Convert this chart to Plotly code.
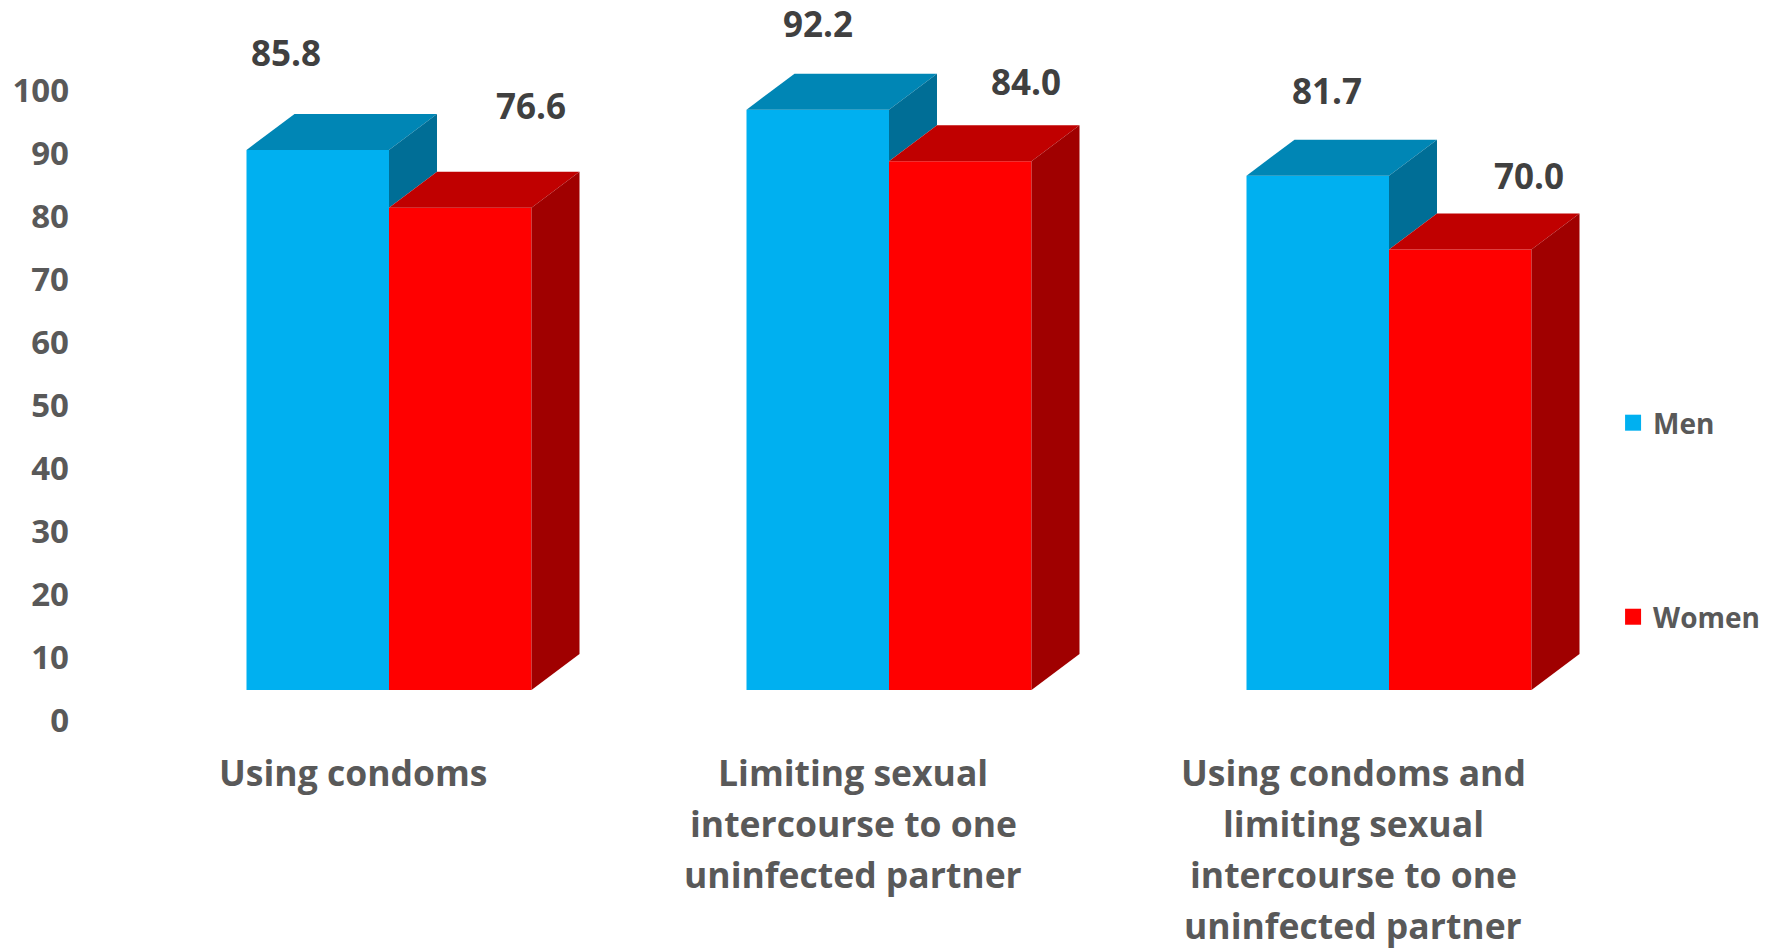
import plotly.graph_objects as go

# ---- data -------------------------------------------------------------
category_lines = [
    ["Using condoms"],
    ["Limiting sexual", "intercourse to one", "uninfected partner"],
    ["Using condoms and", "limiting sexual", "intercourse to one", "uninfected partner"],
]
series_names = ["Men", "Women"]
men = [85.8, 92.2, 81.7]
women = [76.6, 84.0, 70.0]
y_ticks = list(range(0, 101, 10))

# ---- styling ----------------------------------------------------------
FONT = "Open Sans"
TICK_GREY = "#595959"
LABEL_GREY = "#404040"
front_colors = ["#00B0F0", "#FF0000"]
top_colors = ["#0086B5", "#C00000"]
side_colors = ["#006E96", "#A00000"]

# pseudo-3D geometry (axis units)
FLOOR = 4.77        # front faces rise from the floor's front edge
BAR_W = 0.285       # width of one front face
GROUP_SHIFT = 0.072 # front faces sit right of the category centre
DEPTH_X = 0.096     # receding offset of the back edges
DEPTH_Y = 5.72

# per-label nudges (pixels) for the value labels
label_dx = [[-32, 0, 9], [71, 66, 69]]
label_dy = [[97, 86, 85], [102, 80, 74]]

series_values = [men, women]
xs = list(range(len(category_lines)))

fig = go.Figure()

# front faces
for s, vals in enumerate(series_values):
    fig.add_trace(go.Bar(
        x=xs, y=vals, base=FLOOR, width=BAR_W,
        offset=GROUP_SHIFT - BAR_W + s * BAR_W,
        marker=dict(color=front_colors[s], line=dict(width=0)),
        showlegend=False, hoverinfo="skip", name=series_names[s],
    ))


def poly(px, py, color):
    fig.add_trace(go.Scatter(
        x=px + [px[0]], y=py + [py[0]], mode="lines", fill="toself",
        fillcolor=color, line=dict(width=0, color=color),
        showlegend=False, hoverinfo="skip",
    ))


for i in xs:
    m, w = men[i], women[i]
    for s, v in enumerate((m, w)):
        left = i + GROUP_SHIFT - BAR_W + s * BAR_W
        right = left + BAR_W
        top = FLOOR + v
        # top face
        poly([left, right, right + DEPTH_X, left + DEPTH_X],
             [top, top, top + DEPTH_Y, top + DEPTH_Y], top_colors[s])
        # right side face; the men's side shows only above the women's bar
        if s == 0:
            low = FLOOR + min(w, m)
        else:
            low = FLOOR
        if top > low:
            poly([right, right + DEPTH_X, right + DEPTH_X, right],
                 [low, low + DEPTH_Y, top + DEPTH_Y, top], side_colors[s])

# value labels
for s, vals in enumerate(series_values):
    for i, v in enumerate(vals):
        cx = i + GROUP_SHIFT - BAR_W + s * BAR_W + BAR_W / 2
        fig.add_annotation(
            x=cx, y=FLOOR + v, text=f"{v:.1f}", showarrow=False,
            xanchor="center", yanchor="middle",
            xshift=label_dx[s][i], yshift=label_dy[s][i],
            font=dict(family=FONT, size=35, color=LABEL_GREY, weight="bold"),
        )

# category labels, one annotation per line
LINE_STEP = 51
for i, lines in enumerate(category_lines):
    for j, line in enumerate(lines):
        fig.add_annotation(
            x=i, xref="x", y=0, yref="paper", text=line, showarrow=False,
            xanchor="center", yanchor="middle", yshift=-(37 + j * LINE_STEP),
            font=dict(family=FONT, size=35.5, color=TICK_GREY, weight="bold"),
        )

# legend entries
legend_y = [0.4245, 0.1605]
for s, name in enumerate(series_names):
    fig.add_trace(go.Scatter(
        x=[None], y=[None], mode="markers", name=name,
        marker=dict(symbol="square", size=16, color=front_colors[s]),
        legend="legend" if s == 0 else "legend2", hoverinfo="skip",
    ))

legend_style = dict(
    x=1.0086, xanchor="left", yanchor="middle", bgcolor="rgba(0,0,0,0)",
    font=dict(family=FONT, size=28, color=TICK_GREY, weight="bold"),
    itemsizing="trace",
)

fig.update_layout(
    width=1775, height=949,
    margin=dict(l=80, r=175, t=0, b=214),
    paper_bgcolor="white", plot_bgcolor="white",
    barmode="overlay",
    legend=dict(y=legend_y[0], **legend_style),
    legend2=dict(y=legend_y[1], **legend_style),
    xaxis=dict(range=[-0.546, 2.494], showgrid=False, zeroline=False,
               showline=False, showticklabels=False, ticks=""),
    yaxis=dict(range=[-2.383, 114.39], tickvals=y_ticks, showgrid=False,
               zeroline=False, showline=False, ticks="",
               ticklabelstandoff=10,
               tickfont=dict(family=FONT, size=33, color=TICK_GREY, weight="bold")),
)

fig.write_html("out.html")
